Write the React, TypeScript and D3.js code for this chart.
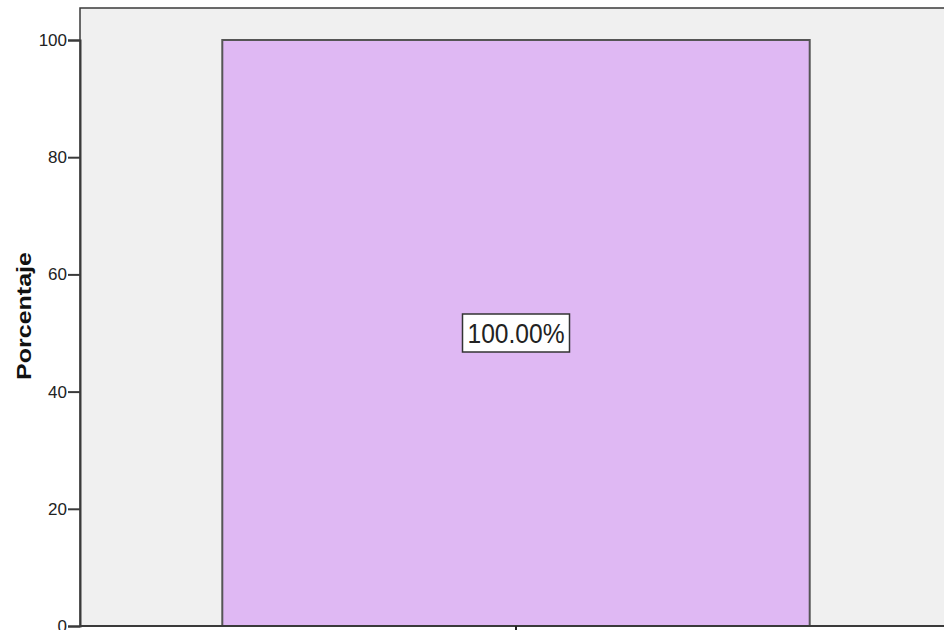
import * as d3 from "d3";
import { useEffect, useRef } from "react";

const categories = ["Total"];
const percentages = [100];
const yTicks = [0, 20, 40, 60, 80, 100];
const barLabels = ["100.00%"];

const W = 944;
const H = 630;

const margin = { left: 80, top: 8, right: -8 };
const yTop = 40;
const yBottom = 626;

const App = () => {
    const ref = useRef<SVGSVGElement>(null);

    useEffect(() => {
        const svg = d3.select(ref.current);
        svg.selectAll("*").remove();

        const x = d3
            .scaleBand()
            .domain(categories)
            .range([margin.left, W - margin.right])
            .padding(0.195);

        const y = d3.scaleLinear().domain([0, 100]).range([yBottom, yTop]);

        // plot background
        svg.append("rect")
            .attr("x", margin.left)
            .attr("y", margin.top)
            .attr("width", W - margin.left + 10)
            .attr("height", yBottom - margin.top)
            .attr("fill", "#f0f0f0")
            .attr("stroke", "#3a3a3a")
            .attr("stroke-width", 1.5);

        // bars
        svg.selectAll(".bar")
            .data(percentages)
            .enter()
            .append("rect")
            .attr("x", (_, i) => x(categories[i])!)
            .attr("y", d => y(d))
            .attr("width", x.bandwidth())
            .attr("height", d => yBottom - y(d))
            .attr("fill", "#dfb8f3")
            .attr("stroke", "#555555")
            .attr("stroke-width", 2);

        // y axis
        const yAxis = d3.axisLeft(y).tickValues(yTicks).tickSize(12).tickPadding(1).tickFormat(d3.format("d"));
        const gy = svg.append("g")
            .attr("transform", `translate(${margin.left},0)`)
            .call(yAxis);
        gy.select(".domain")
            .attr("stroke", "#3a3a3a")
            .attr("stroke-width", 2);
        gy.selectAll(".tick line")
            .attr("stroke", "#3a3a3a")
            .attr("stroke-width", 2);
        gy.selectAll(".tick text")
            .attr("font-family", "Arial, 'Liberation Sans', sans-serif")
            .attr("font-size", 17)
            .attr("fill", "#222");

        // x axis
        svg.append("line")
            .attr("x1", margin.left)
            .attr("x2", W)
            .attr("y1", yBottom)
            .attr("y2", yBottom)
            .attr("stroke", "#3a3a3a")
            .attr("stroke-width", 2);
        svg.selectAll(".xtick")
            .data(categories)
            .enter()
            .append("line")
            .attr("x1", d => x(d)! + x.bandwidth() / 2)
            .attr("x2", d => x(d)! + x.bandwidth() / 2)
            .attr("y1", yBottom)
            .attr("y2", yBottom + 6)
            .attr("stroke", "#222")
            .attr("stroke-width", 2);

        // bar labels
        percentages.forEach((d, i) => {
            const cx = x(categories[i])! + x.bandwidth() / 2;
            const cy = y(d / 2);
            const g = svg.append("g");
            g.append("rect")
                .attr("x", cx - 53.5)
                .attr("y", cy - 19)
                .attr("width", 107)
                .attr("height", 38)
                .attr("fill", "#ffffff")
                .attr("stroke", "#333")
                .attr("stroke-width", 1.5);
            g.append("text")
                .attr("x", cx)
                .attr("y", cy + 10)
                .attr("text-anchor", "middle")
                .attr("font-family", "Arial, 'Liberation Sans', sans-serif")
                .attr("font-size", 27)
                .attr("textLength", 97)
                .attr("lengthAdjust", "spacingAndGlyphs")
                .attr("fill", "#222")
                .text(barLabels[i]);
        });

        // y axis title
        svg.append("text")
            .attr("transform", `translate(31, ${(252 + 380) / 2}) rotate(-90)`)
            .attr("text-anchor", "middle")
            .attr("font-family", "Arial, 'Liberation Sans', sans-serif")
            .attr("font-weight", "bold")
            .attr("font-size", 20)
            .attr("textLength", 128)
            .attr("lengthAdjust", "spacingAndGlyphs")
            .attr("fill", "#111")
            .text("Porcentaje");
    }, []);

    return (
        <svg
            ref={ref}
            width={W}
            height={H}
            style={{ position: "absolute", left: 0, top: 0, background: "#ffffff" }}
        />
    );
};

export default App;
